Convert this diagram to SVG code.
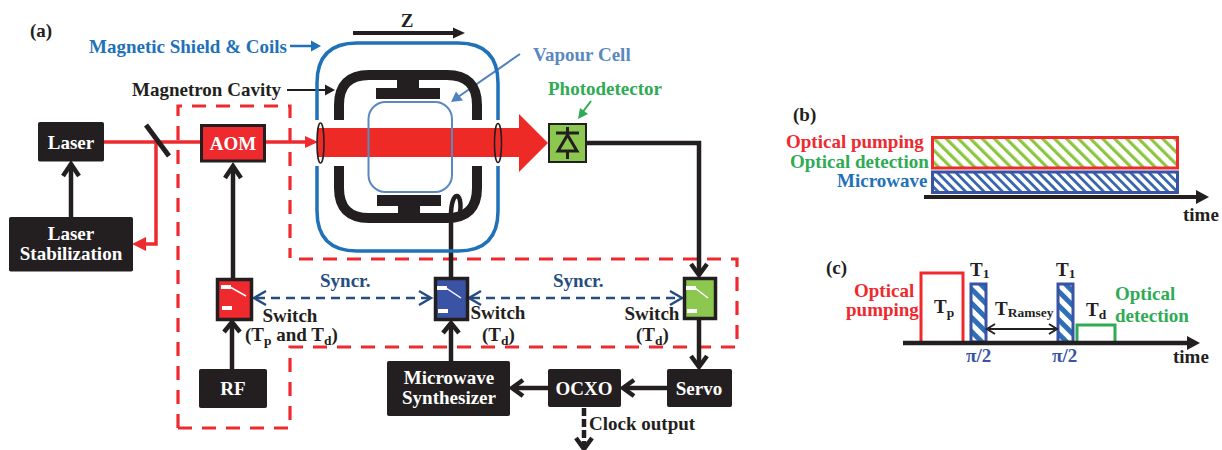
<svg xmlns="http://www.w3.org/2000/svg" width="1222" height="450" viewBox="0 0 1222 450">
<style>
text{font-family:"Liberation Serif","Times New Roman",serif;font-weight:bold;font-size:19px;fill:#231f20}
.w{fill:#fff}.m{text-anchor:middle}.s{font-size:13.5px}
.box{fill:#231f20;stroke:#231f20;stroke-width:1}
.k{fill:none;stroke:#231f20;stroke-width:4.500;stroke-linecap:butt}
.ch{fill:none;stroke:#231f20;stroke-width:4.500;stroke-linejoin:miter}
.r{fill:none;stroke:#ee2a2e;stroke-width:3.500}
.dash{fill:none;stroke:#ee2a2e;stroke-width:3.200;stroke-dasharray:14 10}
.sync{fill:none;stroke:#264c80;stroke-width:2.500;stroke-dasharray:9 6}
.ch2{fill:none;stroke:#264c80;stroke-width:2.500}
.blue{fill:#1f71b8}.lb{fill:#5b88bf}.gr{fill:#2fab54}.red{fill:#ee2a2e}.db{fill:#264c80}.b3{fill:#3953a4}
.sw{stroke:#231f20;stroke-width:3.500}
</style>
<defs>
<pattern id="hg" width="8.500" height="8.500" patternUnits="userSpaceOnUse" patternTransform="rotate(-45)"><rect width="8.500" height="8.500" fill="#fff"/><rect width="3.200" height="8.500" fill="#8cc63f"/></pattern>
<pattern id="hb" width="6.500" height="6.500" patternUnits="userSpaceOnUse" patternTransform="rotate(-45)"><rect width="6.500" height="6.500" fill="#fff"/><rect width="2.800" height="6.500" fill="#3a66ad"/></pattern>
<pattern id="hc" width="10" height="10" patternUnits="userSpaceOnUse" patternTransform="rotate(-45)"><rect width="10" height="10" fill="#fff"/><rect width="5" height="10" fill="#2e6fb7"/></pattern>
</defs>

<g id="dashed-region"><path class="dash" d="M178 428V106H290V258M299 259H737V347H290V428H178"/></g>

<g id="connectors">
<path d="M104 142H200" class="r"/>
<path d="M156 142V244H138" class="r"/><path d="M132 244L146 237V251Z" fill="#ee2a2e"/>
<path d="M265 142H310" class="r"/><path d="M318 142L305 136V148Z" fill="#ee2a2e"/>
<path d="M71 217V164" class="k"/><path class="ch" d="M63 176L71 164L79 176"/>
<path d="M233 278V166" class="k"/><path class="ch" d="M225 178L233 166L241 178"/>
<path d="M232 369V322" class="k"/><path class="ch" d="M224 332L232 322L240 332"/>
<path d="M451 361V323" class="k"/><path class="ch" d="M443 333L451 323L459 333"/>
<path d="M451 277V215C451 190 463 190 460 213" class="k"/>
<path d="M586 143H699V275" class="k"/><path class="ch" d="M691 264L699 275L707 264"/>
<path d="M699 320V366" class="k"/><path class="ch" d="M691 356L699 367L707 356"/>
<path d="M667 388H624" class="k"/><path class="ch" d="M634 380L623 388L634 396"/>
<path d="M548 388H513" class="k"/><path class="ch" d="M523 380L512 388L523 396"/>
<path d="M584 408V445" class="k" stroke-dasharray="8 3"/><path class="ch" d="M576 438L584 449L592 438"/>
<path class="sync" d="M256 298H429"/><path class="ch2" d="M266 291L254 298L266 305M419 291L431 298L419 305"/>
<path class="sync" d="M471 298H680"/><path class="ch2" d="M481 291L469 298L481 305M670 291L682 298L670 305"/>
<path d="M146 125L169 156" stroke="#231f20" stroke-width="5" fill="none"/>
<path d="M353 33H455" stroke="#231f20" stroke-width="4"/><path d="M465 33L453 27.500V38.500Z" fill="#231f20"/>
<path d="M290 46H312" stroke="#1f71b8" stroke-width="2.500"/><path d="M321 46L311 40.500V51.500Z" fill="#1f71b8"/>
<path d="M287 90H326" stroke="#231f20" stroke-width="2"/><path d="M335 90L325 84.500V95.500Z" fill="#231f20"/>
<path d="M520 54L458 97" stroke="#4f81bd" stroke-width="2"/><path d="M451 102L456 91.500L463 100.500Z" fill="#4f81bd"/>
<path d="M591 101L582 113" stroke="#2fab54" stroke-width="2"/><path d="M578 119L580 108L588 114Z" fill="#2fab54"/>
</g>

<g id="shield"><path d="M317 120V83Q317 43 357 43H458Q498 43 498 83V120M498 166V211Q498 251 458 251H357Q317 251 317 211V166" fill="none" stroke="#1f71b8" stroke-width="3.500"/></g>
<g id="cavity"><path d="M339 120V105Q339 75 369 75H447Q477 75 477 105V120M477 166V188Q477 218 447 218H369Q339 218 339 188V166" fill="none" stroke="#231f20" stroke-width="10"/>
<path d="M397 75H419V88H440V99H376V88H397Z" fill="#231f20"/><path d="M377 195H441V206H420V218H398V206H377Z" fill="#231f20"/></g>
<g id="beam"><path d="M317 128H519V114L548 143L519 172V157H317Z" fill="#ee2a27"/>
<ellipse cx="320.500" cy="143" rx="3.500" ry="20" fill="none" stroke="#231f20" stroke-width="1.500"/><ellipse cx="498" cy="143" rx="3.500" ry="19.500" fill="none" stroke="#231f20" stroke-width="1.500"/></g>
<g id="vapour-cell"><rect x="368.500" y="102" width="83.500" height="90" rx="17" fill="none" stroke="#5b88bf" stroke-width="2"/></g>

<g id="laser"><rect class="box" x="38.500" y="122.500" width="65" height="38.500" rx="1"/><text class="w m" x="71" y="149">Laser</text></g>
<g id="stabilization"><rect class="box" x="9.500" y="217.500" width="123" height="53.500" rx="1"/><text class="w m" x="71" y="240">Laser</text><text class="w m" x="71" y="260">Stabilization</text></g>
<g id="aom"><rect x="201.500" y="125.500" width="63" height="35.500" fill="#ee2a2e" stroke="#231f20" stroke-width="3"/><text class="w m" x="233" y="150">AOM</text></g>
<g id="photodetector"><rect x="549" y="124" width="37" height="38" fill="#8cc850" stroke="#231f20" stroke-width="2"/>
<path d="M556 133H579M567.500 127V133M558 151H577L567.500 135ZM567.500 151V159" fill="none" stroke="#231f20" stroke-width="3"/></g>
<g id="switch-red"><rect class="sw" x="217.500" y="279.500" width="34" height="40" fill="#ee2a2e"/><path d="M221 285H231V289H221ZM222 306H232V310H222Z" fill="#fff"/><path d="M230 287L246 296" stroke="#fff" stroke-width="1.500"/></g>
<g id="switch-blue"><rect class="sw" x="435.500" y="278.500" width="32" height="41" fill="#3a53a4"/><path d="M437 286H447V290H437ZM438 309H448V313H438Z" fill="#fff"/><path d="M446 288L461 298" stroke="#fff" stroke-width="1.500"/></g>
<g id="switch-green"><rect class="sw" x="684.500" y="278.500" width="31" height="40" fill="#8cc850"/><path d="M686 286H696V290H686ZM687 309H697V313H687Z" fill="#fff"/><path d="M695 288L708 298" stroke="#fff" stroke-width="1.500"/></g>
<g id="rf"><rect class="box" x="199.500" y="369.500" width="67" height="38" rx="1"/><text class="w m" x="233" y="395">RF</text></g>
<g id="synth"><rect class="box" x="387.500" y="361.500" width="122" height="54" rx="1"/><text class="w m" x="449" y="384">Microwave</text><text class="w m" x="449" y="404">Synthesizer</text></g>
<g id="ocxo"><rect class="box" x="548.500" y="369.500" width="72" height="37" rx="1"/><text class="w m" x="584" y="395">OCXO</text></g>
<g id="servo"><rect class="box" x="667.500" y="369.500" width="64" height="37" rx="1"/><text class="w m" x="699" y="395">Servo</text></g>

<g id="labels-a">
<text x="30" y="37">(a)</text>
<text class="blue" x="89" y="53">Magnetic Shield &amp; Coils</text>
<text x="132" y="96">Magnetron Cavity</text>
<text class="m" x="407" y="27">Z</text>
<text class="lb" x="533" y="61">Vapour Cell</text>
<text class="gr" x="548" y="95">Photodetector</text>
<text class="db" x="320" y="287">Syncr.</text>
<text class="db" x="553" y="287">Syncr.</text>
<text class="m" x="290" y="322">Switch</text>
<text x="245" y="341">(T<tspan class="s" dy="4">p</tspan><tspan dy="-4"> and T</tspan><tspan class="s" dy="4">d</tspan><tspan dy="-4">)</tspan></text>
<text class="m" x="498" y="319">Switch</text>
<text x="482" y="341">(T<tspan class="s" dy="4">d</tspan><tspan dy="-4">)</tspan></text>
<text class="m" x="652" y="320">Switch</text>
<text x="636" y="341">(T<tspan class="s" dy="4">d</tspan><tspan dy="-4">)</tspan></text>
<text x="589" y="430">Clock output</text>
</g>

<g id="panel-b">
<text x="793" y="121">(b)</text>
<rect x="932.500" y="137.500" width="245" height="30.500" fill="url(#hg)" stroke="#ee2a2e" stroke-width="3"/>
<rect x="932.500" y="172" width="245" height="20.500" fill="url(#hb)" stroke="#3953a4" stroke-width="3"/>
<path d="M924 197H1199" stroke="#231f20" stroke-width="4"/><path d="M1209 197L1196 190V204Z" fill="#231f20"/>
<text class="red" x="786" y="148">Optical pumping</text>
<text class="gr" x="790" y="168">Optical detection</text>
<text class="blue" x="837" y="187">Microwave</text>
<text x="1183" y="221">time</text>
</g>

<g id="panel-c">
<text x="826" y="274">(c)</text>
<path d="M921 342V273H963V342" fill="none" stroke="#ee2a2e" stroke-width="3"/>
<rect x="971" y="284" width="15" height="58" fill="url(#hc)" stroke="#3953a4" stroke-width="3"/>
<rect x="1058" y="284" width="15" height="58" fill="url(#hc)" stroke="#3953a4" stroke-width="3"/>
<path d="M1077 342V325H1115V342" fill="none" stroke="#2fab54" stroke-width="3"/>
<path d="M903 343H1190" stroke="#231f20" stroke-width="4.500"/><path d="M1200 343L1187 336V350Z" fill="#231f20"/>
<path d="M989 329H1055" stroke="#231f20" stroke-width="2"/><path class="ch" style="stroke-width:2" d="M995 324L987 329L995 334M1049 324L1057 329L1049 334"/>
<text class="red" x="854" y="297">Optical</text>
<text class="red" x="846" y="316">pumping</text>
<text x="934" y="313">T<tspan class="s" dy="4">p</tspan></text>
<text x="970" y="276">T<tspan class="s" dy="2">1</tspan></text>
<text x="1056" y="276">T<tspan class="s" dy="2">1</tspan></text>
<text x="995" y="315">T<tspan class="s" dy="2">Ramsey</tspan></text>
<text x="1086" y="316">T<tspan class="s" dy="3">d</tspan></text>
<text class="gr" x="1115" y="300">Optical</text>
<text class="gr" x="1115" y="322">detection</text>
<text class="b3" x="966" y="362">π/2</text>
<text class="b3" x="1052" y="362">π/2</text>
<text x="1173" y="363">time</text>
</g>
</svg>
